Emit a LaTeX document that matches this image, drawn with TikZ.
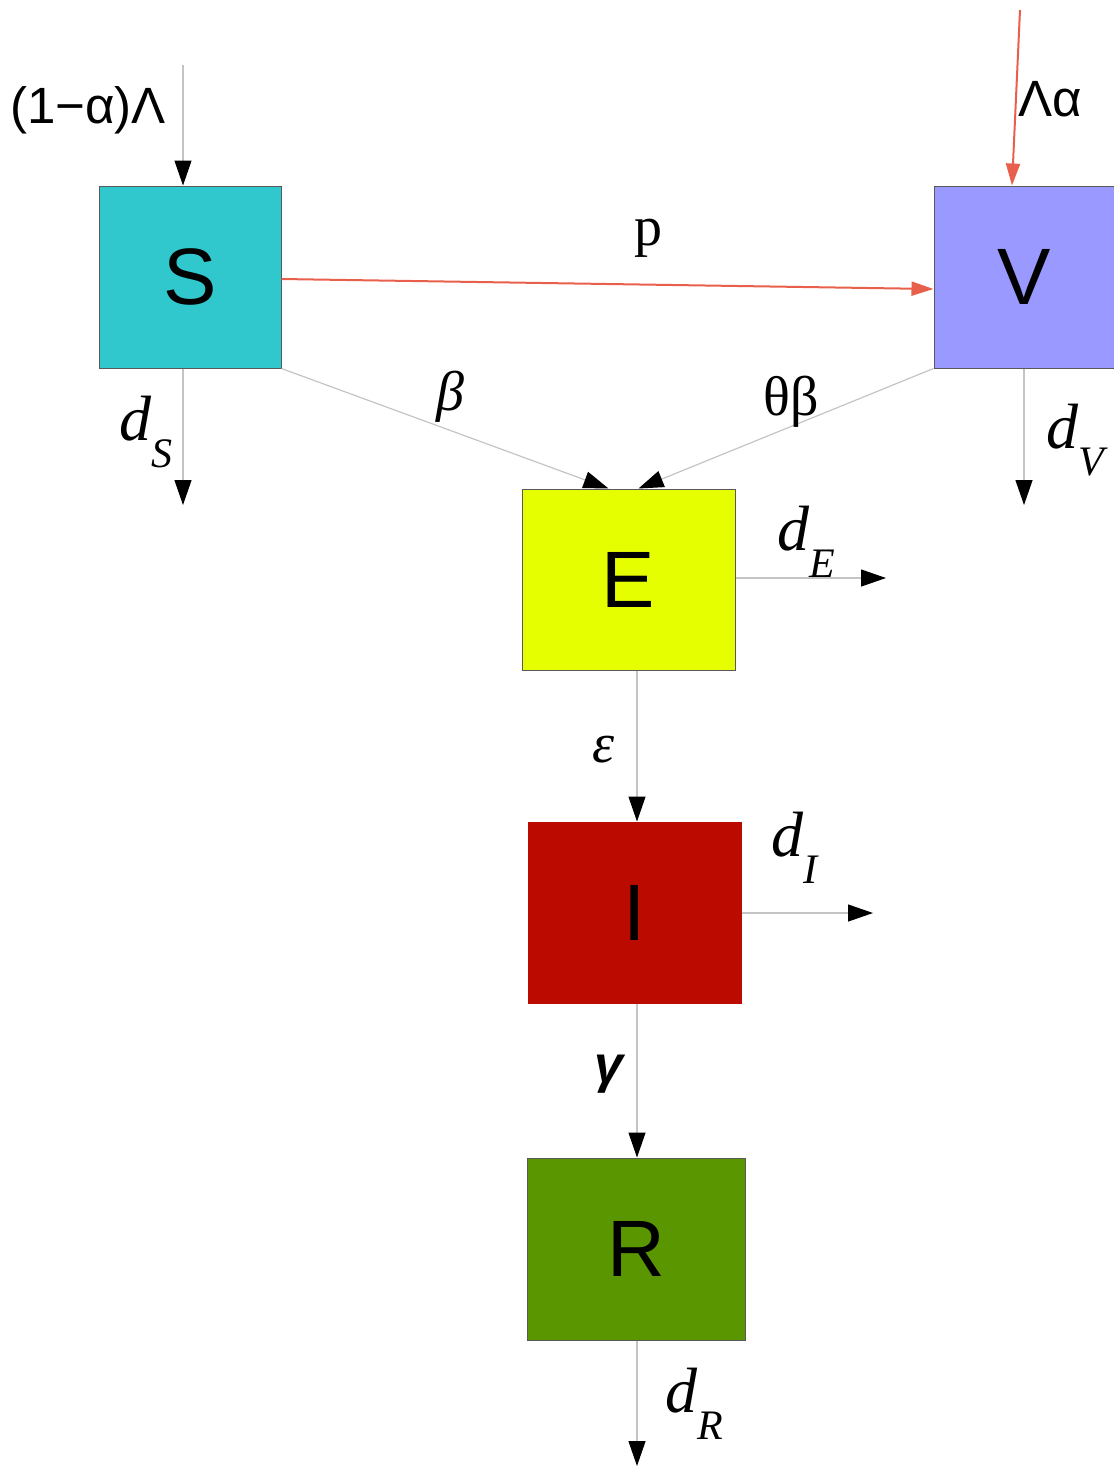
\documentclass[tikz,border=0pt]{standalone}
\usepackage{fontspec}
\setmainfont{Liberation Serif}
\setsansfont{Liberation Sans}
\usetikzlibrary{arrows.meta}
\definecolor{cS}{HTML}{30C8CC}
\definecolor{cV}{HTML}{9999FF}
\definecolor{cE}{HTML}{E6FF00}
\definecolor{cI}{HTML}{BB0A00}
\definecolor{cR}{HTML}{5A9600}
\definecolor{flowgray}{HTML}{C4C4C4}
\definecolor{flowred}{HTML}{E8604C}
\tikzset{
  x=1pt, y=-1pt,
  box/.style={draw=black!65, line width=1pt, inner sep=0pt,
    font=\sffamily\fontsize{80}{80}\selectfont},
  flow/.style={draw=flowgray, line width=1.2pt,
    -{Triangle[length=25pt,width=17pt,fill=black,color=black]}},
  redflow/.style={draw=flowred, line width=2pt,
    -{Triangle[length=22pt,width=14pt,fill=flowred,color=flowred]}},
  sanslab/.style={font=\sffamily\fontsize{51}{51}\selectfont, inner sep=0pt},
  seriflab/.style={font=\fontsize{56}{56}\selectfont, inner sep=0pt},
  italab/.style={font=\itshape\fontsize{56}{56}\selectfont, inner sep=0pt},
  ratelab/.style={font=\itshape\fontsize{64}{64}\selectfont, inner sep=0pt},
}
\newcommand{\dsub}[1]{d\raisebox{-0.42em}{\fontsize{42}{42}\selectfont #1}}
\begin{document}
\begin{tikzpicture}
\useasboundingbox (0,0) rectangle (1114,1468);
% compartments
\node[box, fill=cS, minimum width=182pt, minimum height=182pt] (S) at (190,277) {S};
\node[box, fill=cV, minimum width=180pt, minimum height=182pt] (V) at (1024,277) {V};
\node[box, fill=cE, minimum width=213pt, minimum height=181pt] (E) at (628.5,579.5) {E};
\node[box, fill=cI, draw=cI, minimum width=213pt, minimum height=181pt] (I) at (634.5,912.5) {I};
\node[box, fill=cR, minimum width=218pt, minimum height=182pt] (R) at (636,1249) {R};
% free ends
\coordinate (Sin) at (183,65);
\coordinate (Vin) at (1020,10);
\coordinate (Sout) at (183,505);
\coordinate (Vout) at (1024,505);
\coordinate (Eout) at (886,578);
\coordinate (Iout) at (873,913);
\coordinate (Rout) at (637,1466);
% flows
\draw[flow] (Sin) -- (Sin |- S.north);
\draw[redflow] (Vin) -- ([xshift=-12pt]V.north);
\draw[redflow] ([yshift=-2pt]S.east) -- ([yshift=-12pt]V.west);
\draw[flow] (S.south east) -- ([xshift=-20pt]E.north);
\draw[flow] (V.south west) -- ([xshift=10pt]E.north);
\draw[flow] (Sout |- S.south) -- (Sout);
\draw[flow] (Vout |- V.south) -- (Vout);
\draw[flow] (E.east |- Eout) -- (Eout);
\draw[flow] ([xshift=8.5pt]E.south) -- ([xshift=2.5pt]I.north);
\draw[flow] (I.east |- Iout) -- (Iout);
\draw[flow] ([xshift=2.5pt]I.south) -- ([xshift=1pt]R.north);
\draw[flow] (Rout |- R.south) -- (Rout);
% labels
\node[sanslab] (lSin) at (88,110) {(1−α)Λ};
\node[sanslab] (lVin) at (1050,99) {Λα};
\node[seriflab] (lp) at (648,238) {p};
\node[italab] (lb) at (450,397) {β};
\node[seriflab] (ltb) at (791,402) {θβ};
\node[ratelab] (ldS) at (146,432) {\dsub{S}};
\node[ratelab] (ldV) at (1075,440) {\dsub{V}};
\node[ratelab] (ldE) at (806,542) {\dsub{E}};
\node[ratelab] (ldI) at (794,848) {\dsub{I}};
\node[ratelab] (ldR) at (694,1404) {\dsub{R}};
\node[italab] (le) at (604,750) {ε};
\node[sanslab, font=\sffamily\itshape\bfseries\fontsize{52}{52}\selectfont] (lg) at (609,1074) {γ};
\end{tikzpicture}
\end{document}
